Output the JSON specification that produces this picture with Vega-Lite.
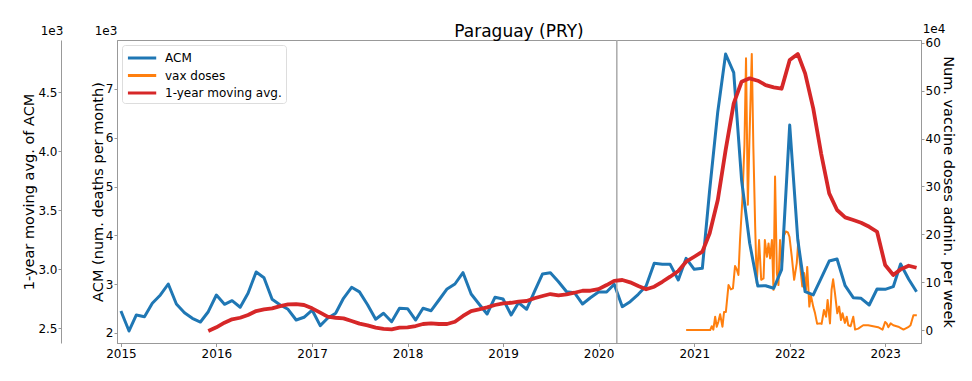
{
  "$schema": "https://vega.github.io/schema/vega-lite/v6.json",
  "width": 804,
  "height": 303,
  "autosize": {"type": "none"},
  "padding": {"left": 117, "top": 40, "right": 51, "bottom": 38},
  "title": {"text": "Paraguay (PRY)", "fontSize": 17, "font": "DejaVu Sans", "fontWeight": "normal", "color": "#000", "offset": -18},
  "config": {
    "font": "DejaVu Sans",
    "view": {"stroke": "#999", "strokeWidth": 1},
    "axis": {"labelFont": "DejaVu Sans", "labelFontSize": 12, "labelColor": "#000", "titleFont": "DejaVu Sans", "titleFontSize": 14.5, "titleFontWeight": "normal", "titleColor": "#000", "domainColor": "#999", "tickColor": "#999", "tickSize": 3, "labelPadding": 1, "grid": false},
    "legend": {"orient": "top-left", "offset": 5, "padding": 4, "strokeColor": "#ddd", "fillColor": "white", "cornerRadius": 3, "symbolType": "M-1,0H3", "symbolStrokeWidth": 3, "symbolSize": 200, "labelFont": "DejaVu Sans", "labelFontSize": 12, "labelColor": "#000", "rowPadding": 2.5, "labelOffset": 21}
  },
  "datasets": {
    "acm": [
      {"date": "2015-01-01", "deaths": 2451}, {"date": "2015-02-01", "deaths": 2041}, {"date": "2015-03-01", "deaths": 2369}, {"date": "2015-04-01", "deaths": 2334},
      {"date": "2015-05-01", "deaths": 2608}, {"date": "2015-06-01", "deaths": 2779}, {"date": "2015-07-01", "deaths": 3004}, {"date": "2015-08-01", "deaths": 2594},
      {"date": "2015-09-01", "deaths": 2416}, {"date": "2015-10-01", "deaths": 2301}, {"date": "2015-11-01", "deaths": 2225}, {"date": "2015-12-01", "deaths": 2436},
      {"date": "2016-01-01", "deaths": 2779}, {"date": "2016-02-01", "deaths": 2588}, {"date": "2016-03-01", "deaths": 2662}, {"date": "2016-04-01", "deaths": 2527},
      {"date": "2016-05-01", "deaths": 2813}, {"date": "2016-06-01", "deaths": 3250}, {"date": "2016-07-01", "deaths": 3133}, {"date": "2016-08-01", "deaths": 2690},
      {"date": "2016-09-01", "deaths": 2574}, {"date": "2016-10-01", "deaths": 2486}, {"date": "2016-11-01", "deaths": 2266}, {"date": "2016-12-01", "deaths": 2322},
      {"date": "2017-01-01", "deaths": 2471}, {"date": "2017-02-01", "deaths": 2150}, {"date": "2017-03-01", "deaths": 2301}, {"date": "2017-04-01", "deaths": 2404},
      {"date": "2017-05-01", "deaths": 2711}, {"date": "2017-06-01", "deaths": 2936}, {"date": "2017-07-01", "deaths": 2843}, {"date": "2017-08-01", "deaths": 2580},
      {"date": "2017-09-01", "deaths": 2281}, {"date": "2017-10-01", "deaths": 2404}, {"date": "2017-11-01", "deaths": 2232}, {"date": "2017-12-01", "deaths": 2506},
      {"date": "2018-01-01", "deaths": 2498}, {"date": "2018-02-01", "deaths": 2266}, {"date": "2018-03-01", "deaths": 2506}, {"date": "2018-04-01", "deaths": 2457},
      {"date": "2018-05-01", "deaths": 2676}, {"date": "2018-06-01", "deaths": 2902}, {"date": "2018-07-01", "deaths": 3004}, {"date": "2018-08-01", "deaths": 3236},
      {"date": "2018-09-01", "deaths": 2799}, {"date": "2018-10-01", "deaths": 2594}, {"date": "2018-11-01", "deaths": 2389}, {"date": "2018-12-01", "deaths": 2731},
      {"date": "2019-01-01", "deaths": 2697}, {"date": "2019-02-01", "deaths": 2369}, {"date": "2019-03-01", "deaths": 2621}, {"date": "2019-04-01", "deaths": 2486},
      {"date": "2019-05-01", "deaths": 2846}, {"date": "2019-06-01", "deaths": 3209}, {"date": "2019-07-01", "deaths": 3236}, {"date": "2019-08-01", "deaths": 3051},
      {"date": "2019-09-01", "deaths": 2846}, {"date": "2019-10-01", "deaths": 2826}, {"date": "2019-11-01", "deaths": 2594}, {"date": "2019-12-01", "deaths": 2723},
      {"date": "2020-01-01", "deaths": 2840}, {"date": "2020-02-01", "deaths": 2840}, {"date": "2020-03-01", "deaths": 2998}, {"date": "2020-04-01", "deaths": 2539},
      {"date": "2020-05-01", "deaths": 2641}, {"date": "2020-06-01", "deaths": 2792}, {"date": "2020-07-01", "deaths": 2963}, {"date": "2020-08-01", "deaths": 3428},
      {"date": "2020-09-01", "deaths": 3407}, {"date": "2020-10-01", "deaths": 3407}, {"date": "2020-11-01", "deaths": 3086}, {"date": "2020-12-01", "deaths": 3530},
      {"date": "2021-01-01", "deaths": 3305}, {"date": "2021-02-01", "deaths": 3326}, {"date": "2021-03-01", "deaths": 4930}, {"date": "2021-04-01", "deaths": 6535},
      {"date": "2021-05-01", "deaths": 7717}, {"date": "2021-06-01", "deaths": 7334}, {"date": "2021-07-01", "deaths": 5135}, {"date": "2021-08-01", "deaths": 3838},
      {"date": "2021-09-01", "deaths": 2963}, {"date": "2021-10-01", "deaths": 2969}, {"date": "2021-11-01", "deaths": 2916}, {"date": "2021-12-01", "deaths": 3300},
      {"date": "2022-01-01", "deaths": 6262}, {"date": "2022-02-01", "deaths": 3906}, {"date": "2022-03-01", "deaths": 2846}, {"date": "2022-04-01", "deaths": 2779},
      {"date": "2022-05-01", "deaths": 3121}, {"date": "2022-06-01", "deaths": 3475}, {"date": "2022-07-01", "deaths": 3516}, {"date": "2022-08-01", "deaths": 2969},
      {"date": "2022-09-01", "deaths": 2723}, {"date": "2022-10-01", "deaths": 2711}, {"date": "2022-11-01", "deaths": 2574}, {"date": "2022-12-01", "deaths": 2902},
      {"date": "2023-01-01", "deaths": 2895}, {"date": "2023-02-01", "deaths": 2949}, {"date": "2023-03-01", "deaths": 3414}, {"date": "2023-04-01", "deaths": 3100},
      {"date": "2023-05-01", "deaths": 2846}
    ],
    "mavg": [
      {"date": "2015-12-01", "avg": 2475},
      {"date": "2016-01-01", "avg": 2506}, {"date": "2016-02-01", "avg": 2545}, {"date": "2016-03-01", "avg": 2574}, {"date": "2016-04-01", "avg": 2587},
      {"date": "2016-05-01", "avg": 2610}, {"date": "2016-06-01", "avg": 2644}, {"date": "2016-07-01", "avg": 2658}, {"date": "2016-08-01", "avg": 2667},
      {"date": "2016-09-01", "avg": 2686}, {"date": "2016-10-01", "avg": 2701}, {"date": "2016-11-01", "avg": 2703}, {"date": "2016-12-01", "avg": 2695},
      {"date": "2017-01-01", "avg": 2667}, {"date": "2017-02-01", "avg": 2630}, {"date": "2017-03-01", "avg": 2596}, {"date": "2017-04-01", "avg": 2587},
      {"date": "2017-05-01", "avg": 2582}, {"date": "2017-06-01", "avg": 2559}, {"date": "2017-07-01", "avg": 2537}, {"date": "2017-08-01", "avg": 2522},
      {"date": "2017-09-01", "avg": 2503}, {"date": "2017-10-01", "avg": 2492}, {"date": "2017-11-01", "avg": 2489}, {"date": "2017-12-01", "avg": 2503},
      {"date": "2018-01-01", "avg": 2506}, {"date": "2018-02-01", "avg": 2517}, {"date": "2018-03-01", "avg": 2534}, {"date": "2018-04-01", "avg": 2540},
      {"date": "2018-05-01", "avg": 2534}, {"date": "2018-06-01", "avg": 2534}, {"date": "2018-07-01", "avg": 2553}, {"date": "2018-08-01", "avg": 2602},
      {"date": "2018-09-01", "avg": 2644}, {"date": "2018-10-01", "avg": 2658}, {"date": "2018-11-01", "avg": 2675}, {"date": "2018-12-01", "avg": 2695},
      {"date": "2019-01-01", "avg": 2709}, {"date": "2019-02-01", "avg": 2714}, {"date": "2019-03-01", "avg": 2723}, {"date": "2019-04-01", "avg": 2729},
      {"date": "2019-05-01", "avg": 2752}, {"date": "2019-06-01", "avg": 2771}, {"date": "2019-07-01", "avg": 2788}, {"date": "2019-08-01", "avg": 2777},
      {"date": "2019-09-01", "avg": 2786}, {"date": "2019-10-01", "avg": 2799}, {"date": "2019-11-01", "avg": 2816}, {"date": "2019-12-01", "avg": 2816},
      {"date": "2020-01-01", "avg": 2830}, {"date": "2020-02-01", "avg": 2864}, {"date": "2020-03-01", "avg": 2900}, {"date": "2020-04-01", "avg": 2907},
      {"date": "2020-05-01", "avg": 2887}, {"date": "2020-06-01", "avg": 2856}, {"date": "2020-07-01", "avg": 2828}, {"date": "2020-08-01", "avg": 2850},
      {"date": "2020-09-01", "avg": 2892}, {"date": "2020-10-01", "avg": 2935}, {"date": "2020-11-01", "avg": 2983}, {"date": "2020-12-01", "avg": 3062},
      {"date": "2021-01-01", "avg": 3104}, {"date": "2021-02-01", "avg": 3147}, {"date": "2021-03-01", "avg": 3303}, {"date": "2021-04-01", "avg": 3585},
      {"date": "2021-05-01", "avg": 4008}, {"date": "2021-06-01", "avg": 4404}, {"date": "2021-07-01", "avg": 4587}, {"date": "2021-08-01", "avg": 4616},
      {"date": "2021-09-01", "avg": 4596}, {"date": "2021-10-01", "avg": 4559}, {"date": "2021-11-01", "avg": 4540}, {"date": "2021-12-01", "avg": 4528},
      {"date": "2022-01-01", "avg": 4771}, {"date": "2022-02-01", "avg": 4822}, {"date": "2022-03-01", "avg": 4658}, {"date": "2022-04-01", "avg": 4362},
      {"date": "2022-05-01", "avg": 3981}, {"date": "2022-06-01", "avg": 3641}, {"date": "2022-07-01", "avg": 3500}, {"date": "2022-08-01", "avg": 3438},
      {"date": "2022-09-01", "avg": 3415}, {"date": "2022-10-01", "avg": 3392}, {"date": "2022-11-01", "avg": 3358}, {"date": "2022-12-01", "avg": 3316},
      {"date": "2023-01-01", "avg": 3034}, {"date": "2023-02-01", "avg": 2949}, {"date": "2023-03-01", "avg": 2997}, {"date": "2023-04-01", "avg": 3028},
      {"date": "2023-05-01", "avg": 3011}
    ],
    "vax": [
      {"date": "2020-12-01", "doses": 0}, {"date": "2020-12-22", "doses": 0}, {"date": "2021-01-12", "doses": 0}, {"date": "2021-02-02", "doses": 0},
      {"date": "2021-02-23", "doses": 0}, {"date": "2021-03-03", "doses": 0}, {"date": "2021-03-09", "doses": 8000}, {"date": "2021-03-15", "doses": 1000},
      {"date": "2021-03-22", "doses": 28000}, {"date": "2021-03-28", "doses": 7000}, {"date": "2021-04-03", "doses": 17000}, {"date": "2021-04-10", "doses": 33000},
      {"date": "2021-04-19", "doses": 7000}, {"date": "2021-04-25", "doses": 38000}, {"date": "2021-05-02", "doses": 38000}, {"date": "2021-05-12", "doses": 94000},
      {"date": "2021-05-21", "doses": 85000}, {"date": "2021-05-29", "doses": 87000}, {"date": "2021-06-06", "doses": 134000}, {"date": "2021-06-13", "doses": 126000},
      {"date": "2021-06-19", "doses": 115000}, {"date": "2021-06-25", "doses": 188000}, {"date": "2021-07-04", "doses": 272000}, {"date": "2021-07-12", "doses": 387000},
      {"date": "2021-07-18", "doses": 568000}, {"date": "2021-07-25", "doses": 262000}, {"date": "2021-07-31", "doses": 397000}, {"date": "2021-08-09", "doses": 577000},
      {"date": "2021-08-15", "doses": 383000}, {"date": "2021-08-22", "doses": 216000}, {"date": "2021-08-28", "doses": 98000}, {"date": "2021-09-06", "doses": 188000},
      {"date": "2021-09-14", "doses": 105000}, {"date": "2021-09-23", "doses": 108000}, {"date": "2021-09-28", "doses": 188000}, {"date": "2021-10-06", "doses": 153000},
      {"date": "2021-10-12", "doses": 181000}, {"date": "2021-10-18", "doses": 150000}, {"date": "2021-10-25", "doses": 188000}, {"date": "2021-10-31", "doses": 84000},
      {"date": "2021-11-06", "doses": 321000}, {"date": "2021-11-13", "doses": 119000}, {"date": "2021-11-19", "doses": 94000}, {"date": "2021-11-25", "doses": 188000},
      {"date": "2021-12-02", "doses": 132000}, {"date": "2021-12-08", "doses": 195000}, {"date": "2021-12-17", "doses": 206000}, {"date": "2021-12-25", "doses": 204000},
      {"date": "2021-12-31", "doses": 195000}, {"date": "2022-01-09", "doses": 153000}, {"date": "2022-01-18", "doses": 105000}, {"date": "2022-01-28", "doses": 140000},
      {"date": "2022-02-03", "doses": 188000}, {"date": "2022-02-09", "doses": 140000}, {"date": "2022-02-18", "doses": 91000}, {"date": "2022-02-25", "doses": 119000},
      {"date": "2022-03-04", "doses": 84000}, {"date": "2022-03-09", "doses": 132000}, {"date": "2022-03-17", "doses": 49000}, {"date": "2022-03-23", "doses": 73000},
      {"date": "2022-04-01", "doses": 49000}, {"date": "2022-04-08", "doses": 35000}, {"date": "2022-04-16", "doses": 13000}, {"date": "2022-04-27", "doses": 14000},
      {"date": "2022-05-03", "doses": 13000}, {"date": "2022-05-12", "doses": 42000}, {"date": "2022-05-20", "doses": 28000}, {"date": "2022-05-26", "doses": 63000},
      {"date": "2022-06-04", "doses": 14000}, {"date": "2022-06-10", "doses": 84000}, {"date": "2022-06-16", "doses": 106000}, {"date": "2022-06-23", "doses": 77000},
      {"date": "2022-07-02", "doses": 35000}, {"date": "2022-07-09", "doses": 49000}, {"date": "2022-07-16", "doses": 21000}, {"date": "2022-07-22", "doses": 35000},
      {"date": "2022-07-31", "doses": 15000}, {"date": "2022-08-07", "doses": 28000}, {"date": "2022-08-13", "doses": 10000}, {"date": "2022-08-22", "doses": 8000},
      {"date": "2022-09-01", "doses": 28000}, {"date": "2022-09-08", "doses": 1000}, {"date": "2022-09-20", "doses": 3000}, {"date": "2022-10-09", "doses": 10000},
      {"date": "2022-10-28", "doses": 10000}, {"date": "2022-11-16", "doses": 8000}, {"date": "2022-12-05", "doses": 6000}, {"date": "2022-12-22", "doses": 1000},
      {"date": "2023-01-01", "doses": 17000}, {"date": "2023-01-07", "doses": 14000}, {"date": "2023-01-13", "doses": 6000}, {"date": "2023-01-22", "doses": 14000},
      {"date": "2023-02-01", "doses": 10000}, {"date": "2023-02-20", "doses": 7000}, {"date": "2023-03-12", "doses": 1000}, {"date": "2023-03-30", "doses": 6000},
      {"date": "2023-04-08", "doses": 10000}, {"date": "2023-04-19", "doses": 31000}, {"date": "2023-05-02", "doses": 31000}
    ]
  },
  "layer": [
    {
      "layer": [
        {
          "data": {"name": "vax"},
          "mark": {"type": "line", "strokeWidth": 2, "strokeJoin": "round"},
          "encoding": {
            "x": {"field": "date", "type": "temporal", "scale": {"domain": [{"year": 2014, "month": 12, "date": 17, "utc": true}, {"year": 2023, "month": 5, "date": 18, "utc": true}]}, "axis": {"title": null, "format": "%Y", "tickCount": {"interval": "year", "step": 1}, "labelPadding": 2, "tickSize": 3.5}},
            "y": {"field": "doses", "type": "quantitative", "scale": {"domain": [-27000, 606000], "nice": false, "zero": false}, "axis": {"orient": "right", "title": "Num. vaccine doses admin. per week", "values": [0, 100000, 200000, 300000, 400000, 500000, 600000], "labelExpr": "format(datum.value/10000, 'd')", "titleX": 26, "titleBaseline": "middle"}},
            "color": {"datum": "vax doses", "type": "nominal", "scale": {"domain": ["ACM", "vax doses", "1-year moving avg."], "range": ["#1f77b4", "#ff7f0e", "#d62728"]}, "legend": {"title": null}}
          }
        },
        {
          "data": {"values": [{"label": "1e4"}]},
          "mark": {"type": "text", "fontSize": 12, "dx": 13, "dy": -11, "align": "center", "baseline": "middle", "color": "#000"},
          "encoding": {
            "x": {"datum": {"year": 2023, "month": 5, "date": 18, "utc": true}, "type": "temporal"},
            "y": {"datum": 606000, "type": "quantitative"},
            "text": {"field": "label"}
          }
        }
      ]
    },
    {
      "layer": [
        {
          "data": {"name": "acm"},
          "mark": {"type": "line", "strokeWidth": 3, "strokeJoin": "round"},
          "encoding": {
            "x": {"field": "date", "type": "temporal"},
            "y": {"field": "deaths", "type": "quantitative", "scale": {"domain": [1795, 8004], "nice": false, "zero": false}, "axis": {"orient": "left", "title": "ACM (num. deaths per month)", "values": [2000, 3000, 4000, 5000, 6000, 7000], "labelExpr": "format(datum.value/1000, 'd')", "titleX": -19, "titleBaseline": "middle"}},
            "color": {"datum": "ACM", "type": "nominal", "scale": {"domain": ["ACM", "vax doses", "1-year moving avg."], "range": ["#1f77b4", "#ff7f0e", "#d62728"]}, "legend": {"title": null}}
          }
        },
        {
          "data": {"values": [{"label": "1e3"}]},
          "mark": {"type": "text", "fontSize": 12, "dx": -11, "dy": -9, "align": "center", "baseline": "middle", "color": "#000"},
          "encoding": {
            "x": {"datum": {"year": 2014, "month": 12, "date": 17, "utc": true}, "type": "temporal"},
            "y": {"datum": 8004, "type": "quantitative"},
            "text": {"field": "label"}
          }
        },
        {
          "data": {"values": [{"event": "pandemic"}]},
          "mark": {"type": "rule", "color": "#aaa", "strokeWidth": 1.5},
          "encoding": {
            "x": {"datum": {"year": 2020, "month": 3, "date": 11, "utc": true}, "type": "temporal"}
          }
        }
      ]
    },
    {
      "layer": [
        {
          "data": {"name": "mavg"},
          "mark": {"type": "line", "strokeWidth": 3.8, "strokeJoin": "round"},
          "encoding": {
            "x": {"field": "date", "type": "temporal"},
            "y": {"field": "avg", "type": "quantitative", "scale": {"domain": [2373, 4941], "nice": false, "zero": false}, "axis": {"orient": "left", "offset": 56, "title": "1-year moving avg. of ACM", "values": [2500, 3000, 3500, 4000, 4500], "labelExpr": "format(datum.value/1000, '.1f')", "titleX": -32, "titleBaseline": "middle"}},
            "color": {"datum": "1-year moving avg.", "type": "nominal", "scale": {"domain": ["ACM", "vax doses", "1-year moving avg."], "range": ["#1f77b4", "#ff7f0e", "#d62728"]}, "legend": {"title": null}}
          }
        },
        {
          "data": {"values": [{"label": "1e3"}]},
          "mark": {"type": "text", "fontSize": 12, "dx": -65, "dy": -9, "align": "center", "baseline": "middle", "color": "#000"},
          "encoding": {
            "x": {"datum": {"year": 2014, "month": 12, "date": 17, "utc": true}, "type": "temporal"},
            "y": {"datum": 4941, "type": "quantitative"},
            "text": {"field": "label"}
          }
        }
      ]
    }
  ],
  "resolve": {"scale": {"y": "independent"}}
}
